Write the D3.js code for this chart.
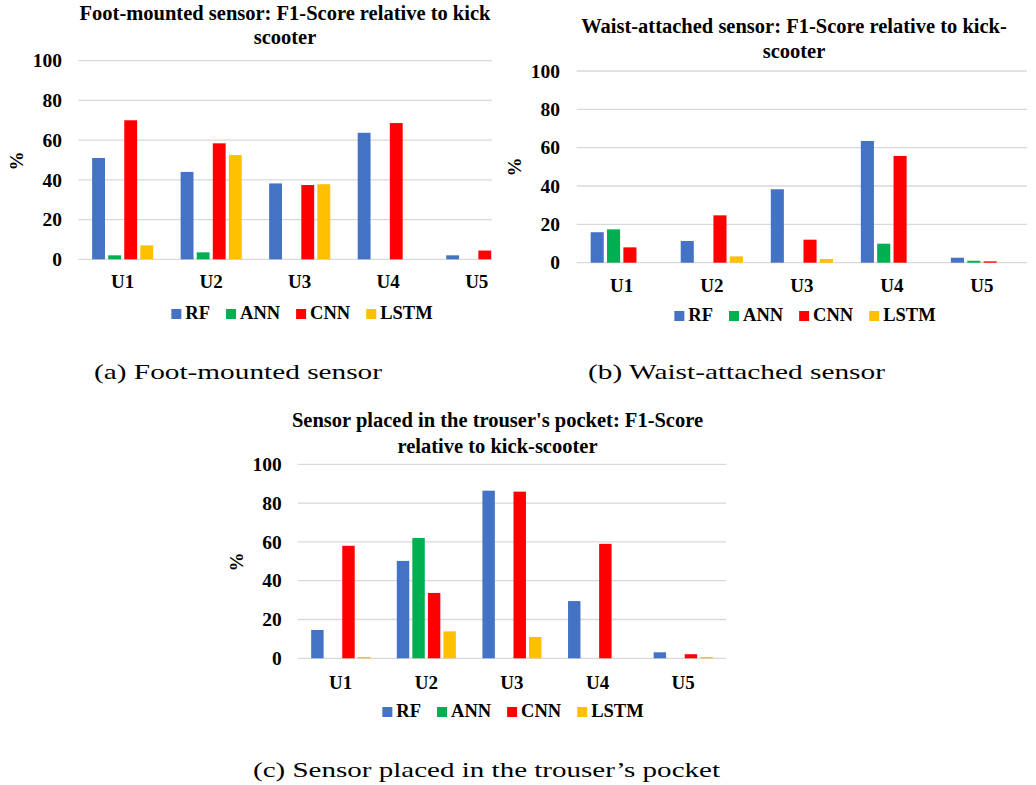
<!DOCTYPE html>
<html>
<head>
<meta charset="utf-8">
<script src="https://cdn.jsdelivr.net/npm/d3@7"></script>
<style>
  body { margin: 0; background: #fff; }
  text { font-family: "Liberation Serif", "Times New Roman", serif; }
</style>
</head>
<body>
<div id="fig"></div>
<script>
// categories and series
var categories = ["U1", "U2", "U3", "U4", "U5"];
var models = ["RF", "ANN", "CNN", "LSTM"];
var yTicks = [0, 20, 40, 60, 80, 100];

// (a) foot-mounted sensor, F1-score %
var footRF   = [51, 44, 38.2, 63.7, 2];
var footANN  = [2, 3.5, 0, 0, 0];
var footCNN  = [70, 58.4, 37.4, 68.6, 4.4];
var footLSTM = [7, 52.5, 37.8, 0, 0];

// (b) waist-attached sensor
var waistRF   = [15.9, 11.3, 38.3, 63.5, 2.6];
var waistANN  = [17.4, 0, 0, 9.9, 1];
var waistCNN  = [8, 24.7, 12, 55.7, 0.7];
var waistLSTM = [0, 3.3, 1.9, 0, 0];

// (c) trouser pocket
var pocketRF   = [14.6, 50.2, 86.4, 29.5, 3.1];
var pocketANN  = [0, 62, 0, 0, 0];
var pocketCNN  = [58, 33.7, 85.9, 59, 2.1];
var pocketLSTM = [0.7, 13.9, 11, 0, 0.7];

var colors = ["#4472C4", "#00B050", "#FF0000", "#FFC000"];
var z = d3.scaleOrdinal().domain(models).range(colors);

var svg = d3.select("#fig").append("svg")
    .attr("width", 1036)
    .attr("height", 785);

svg.append("rect").attr("width", 1036).attr("height", 785).attr("fill", "#fff");

var panels = [
  {
    id: "a", series: [footRF, footANN, footCNN, footLSTM],
    left: 78.4, right: 521, clipRight: 492, y0: 259.3, y100: 60.7,
    tickX: 62, xLabelY: 288,
    title: ["Foot-mounted sensor: F1-Score relative to kick", "scooter"],
    titleX: 285, titleY: [20, 44],
    yLabelX: 17, yLabelY: 161,
    legendX: 302, legendY: 319,
    caption: "(a) Foot-mounted sensor", capX: 94, capW: 288, capY: 379
  },
  {
    id: "b", series: [waistRF, waistANN, waistCNN, waistLSTM],
    left: 576.7, right: 1027, y0: 262.7, y100: 71,
    tickX: 560, xLabelY: 292,
    title: ["Waist-attached sensor: F1-Score relative to kick-", "scooter"],
    titleX: 794, titleY: [33, 58],
    yLabelX: 515, yLabelY: 167,
    legendX: 805, legendY: 321,
    caption: "(b) Waist-attached sensor", capX: 588, capW: 297, capY: 379
  },
  {
    id: "c", series: [pocketRF, pocketANN, pocketCNN, pocketLSTM],
    left: 297.9, right: 726, y0: 658.3, y100: 464.3,
    tickX: 281.7, xLabelY: 689,
    title: ["Sensor placed in the trouser's pocket: F1-Score", "relative to kick-scooter"],
    titleX: 497.5, titleY: [427, 453],
    yLabelX: 236.7, yLabelY: 562,
    legendX: 513, legendY: 717,
    caption: "(c) Sensor placed in the trouser\u2019s pocket", capX: 253, capW: 467, capY: 777
  }
];

panels.forEach(drawPanel);

function drawPanel(p) {
  var g = svg.append("g").attr("class", "panel-" + p.id);

  if (p.clipRight) {
    svg.append("clipPath").attr("id", "clip-" + p.id)
      .append("rect").attr("x", 0).attr("y", 0).attr("width", p.clipRight).attr("height", 340);
    g.attr("clip-path", "url(#clip-" + p.id + ")");
  }

  var y = d3.scaleLinear().domain([0, 100]).range([p.y0, p.y100]);

  var x0 = d3.scaleBand()
      .domain(categories)
      .range([p.left, p.right])
      .paddingInner(0.31)
      .paddingOuter(0.155);

  var x1 = d3.scaleBand()
      .domain(models)
      .range([0, x0.bandwidth()])
      .paddingInner(0.2);

  // gridlines
  g.selectAll(".grid")
    .data(yTicks)
    .enter().append("line")
      .attr("class", "grid")
      .attr("x1", p.left)
      .attr("x2", p.right)
      .attr("y1", function(d) { return y(d); })
      .attr("y2", function(d) { return y(d); })
      .attr("stroke", "#d9d9d9")
      .attr("stroke-width", 1.3);

  // y axis labels
  var ya = g.append("g")
      .attr("transform", "translate(" + p.left + ",0)")
      .call(d3.axisLeft(y).tickValues(yTicks).tickSize(0).tickPadding(p.left - p.tickX));
  ya.select(".domain").remove();
  ya.selectAll("text")
      .attr("fill", "#000")
      .style("font-weight", "bold")
      .style("font-size", "19.5px");

  // bars
  var serie = g.selectAll(".serie")
    .data(p.series)
    .enter().append("g")
      .attr("class", "serie")
      .attr("fill", function(d, i) { return z(models[i]); });

  serie.each(function(vals, i) {
    d3.select(this).selectAll("rect")
      .data(vals)
      .enter().append("rect")
        .attr("x", function(d, j) { return x0(categories[j]) + x1(models[i]); })
        .attr("y", function(d) { return y(d); })
        .attr("width", x1.bandwidth())
        .attr("height", function(d) { return y(0) - y(d); });
  });

  // x axis labels
  var xa = g.append("g")
      .attr("transform", "translate(0," + p.y0 + ")")
      .call(d3.axisBottom(x0).tickSize(0));
  xa.select(".domain").remove();
  xa.selectAll("text")
      .attr("y", p.xLabelY - p.y0)
      .attr("dy", 0)
      .attr("fill", "#000")
      .style("font-weight", "bold")
      .style("font-size", "19px");

  // title
  g.selectAll(".title")
    .data(p.title)
    .enter().append("text")
      .attr("class", "title")
      .attr("x", p.titleX)
      .attr("y", function(d, i) { return p.titleY[i]; })
      .attr("text-anchor", "middle")
      .style("font-weight", "bold")
      .style("font-size", "20.5px")
      .text(function(d) { return d; });

  // y label
  g.append("text")
      .attr("transform", "translate(" + (p.yLabelX + 6) + "," + p.yLabelY + ") rotate(-90)")
      .attr("text-anchor", "middle")
      .style("font-weight", "bold")
      .style("font-size", "19px")
      .text("%");

  // legend
  var lg = g.append("g");
  var pos = 0;
  models.forEach(function(m) {
    lg.append("rect")
      .attr("x", pos).attr("y", p.legendY - 10)
      .attr("width", 10).attr("height", 10)
      .attr("fill", z(m));
    var t = lg.append("text")
      .attr("x", pos + 14).attr("y", p.legendY)
      .style("font-weight", "bold")
      .style("font-size", "18.5px")
      .text(m);
    pos += 14 + t.node().getComputedTextLength() + 16;
  });
  pos -= 16;
  lg.attr("transform", "translate(" + (p.legendX - pos / 2) + ",0)");

  // caption
  svg.append("text")
      .attr("x", p.capX)
      .attr("y", p.capY)
      .attr("textLength", p.capW)
      .attr("lengthAdjust", "spacingAndGlyphs")
      .style("font-size", "22px")
      .text(p.caption);
}
</script>
</body>
</html>
